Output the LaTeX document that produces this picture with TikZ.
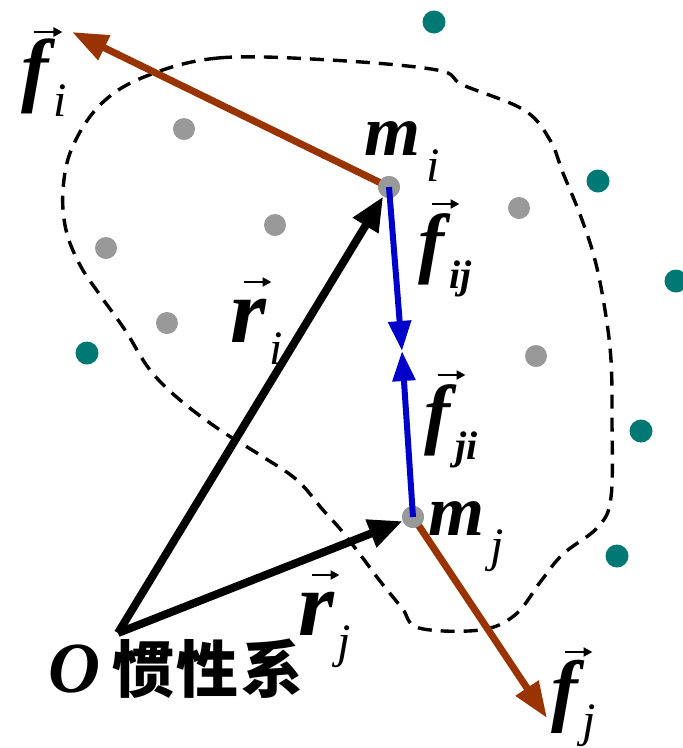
\documentclass[tikz,border=0pt]{standalone}
\usepackage{fontspec}
\setmainfont{Liberation Serif}
\newfontfamily\cjk{Noto Sans CJK SC}
\usetikzlibrary{arrows.meta,positioning}
\definecolor{dotgray}{RGB}{153,153,153}
\definecolor{dotteal}{RGB}{0,120,115}
\definecolor{forcebrown}{RGB}{153,51,0}
\definecolor{forceblue}{RGB}{0,0,204}
\newcommand{\subfont}{\fontsize{48}{50}\selectfont\mdseries\itshape}
\newcommand{\vecmark}[1]{\rlap{\hspace{12pt}\raisebox{#1}{\tikz[baseline=0pt]\draw[line width=2.6pt,-{Triangle[length=9pt,width=9pt]}] (0pt,0pt) -- (28pt,0pt);}}}
\newcommand{\vsym}[3][82]{\vecmark{64pt}{\fontsize{#1}{#1}\selectfont\bfseries\itshape #2}\hspace{5pt}\raisebox{-20pt}{\subfont #3}}
\newcommand{\rsym}[1]{\vecmark{60pt}{\fontsize{92}{92}\selectfont\bfseries\itshape r}\hspace{3pt}\raisebox{-22pt}{\subfont #1}}
\newcommand{\msym}[1]{{\fontsize{72}{72}\selectfont\bfseries\itshape m}\hspace{6pt}\raisebox{-26pt}{\subfont #1}}

\begin{document}
\begin{tikzpicture}[
  x=1pt, y=-1pt,
  gdot/.style={circle, fill=dotgray, minimum size=22pt, inner sep=0pt},
  tdot/.style={circle, fill=dotteal, minimum size=23pt, inner sep=0pt},
  lab/.style={anchor=base west, inner sep=0pt},
  border/.style={draw, line width=3.4pt, dash pattern=on 14pt off 9pt},
  posvec/.style={draw, line width=8pt, -{Triangle[length=34pt,width=28pt]}},
  extforce/.style={draw=forcebrown, line width=7pt, -{Triangle[length=36pt,width=26pt]}, forcebrown},
  intforce/.style={draw=forceblue, line width=6pt, -{Triangle[length=30pt,width=22pt]}, forceblue}
]
\useasboundingbox (0,0) rectangle (683,748);

% system boundary
\draw[border] plot[smooth cycle, tension=0.6] coordinates {
  (144,77) (218,58) (330,60) (437,70) (463,85) (524,110) (550,140)
  (563,173) (581,217) (595,260) (605,310) (611,360) (612,420) (611,497)
  (598,527) (563,554) (541,581) (515,615) (480,630) (419,628) (402,608)
  (380,581) (362,557) (341,530) (323,510) (297,480) (260,455) (220,430)
  (180,400) (150,370) (125,330) (100,295) (80,265) (66,230) (63,190)
  (72,148) (100,105)};

% outside particles
\foreach \p [count=\k] in {(434,22),(598,181),(676,281),(87,353),(641,431),(617,556)}
  \node[tdot] (t\k) at \p {};

\node[gdot] (mi) at (389,187) {};
\node[gdot] (mj) at (413,517) {};
\coordinate (O) at (118,633);
\coordinate (mid) at (402,351);
\coordinate (fi) at (72,32);
\coordinate (fj) at (547,718);

% external forces
\draw[extforce] (mi.center) -- (fi);
\draw[extforce] (mj.center) -- (fj);

% inside particles
\foreach \p [count=\k] in {(184,129),(275,225),(106,248),(167,323),(519,208),(536,356)}
  \node[gdot] (g\k) at \p {};
\node[gdot] at (mi) {};
\node[gdot] at (mj) {};

% internal forces
\draw[intforce] (mi.center) -- (mid);
\draw[intforce] (mj.center) -- (mid);

% position vectors
\draw[posvec] (O) -- (mi);
\draw[posvec] (O) -- (mj);

% labels
\node[lab] (lfi) at (21,96) {\vsym{f}{i}};
\node[lab] (lmi) at (364,155) {\msym{i}};
\node[lab] (lfij) at (418,268) {\vsym[78]{f}{\fontsize{40}{42}\selectfont\bfseries ij}};
\node[lab] (lri) at (230,342) {\rsym{i}};
\node[lab] (lfji) at (424,439) {\vsym[78]{f}{\fontsize{40}{42}\selectfont\bfseries ji}};
\node[lab] (lmj) at (428,535) {\msym{j}};
\node[lab] (lrj) at (298,635) {\rsym{j}};
\node[lab] (lfj) at (551,716) {\vsym[80]{f}{j}};
\node[lab] (lO) at (48,692) {\fontsize{72}{72}\selectfont\bfseries\itshape O\hspace{12pt}\cjk\bfseries\fontsize{62}{62}\selectfont\addfontfeature{LetterSpace=4}惯性系};
\end{tikzpicture}
\end{document}
